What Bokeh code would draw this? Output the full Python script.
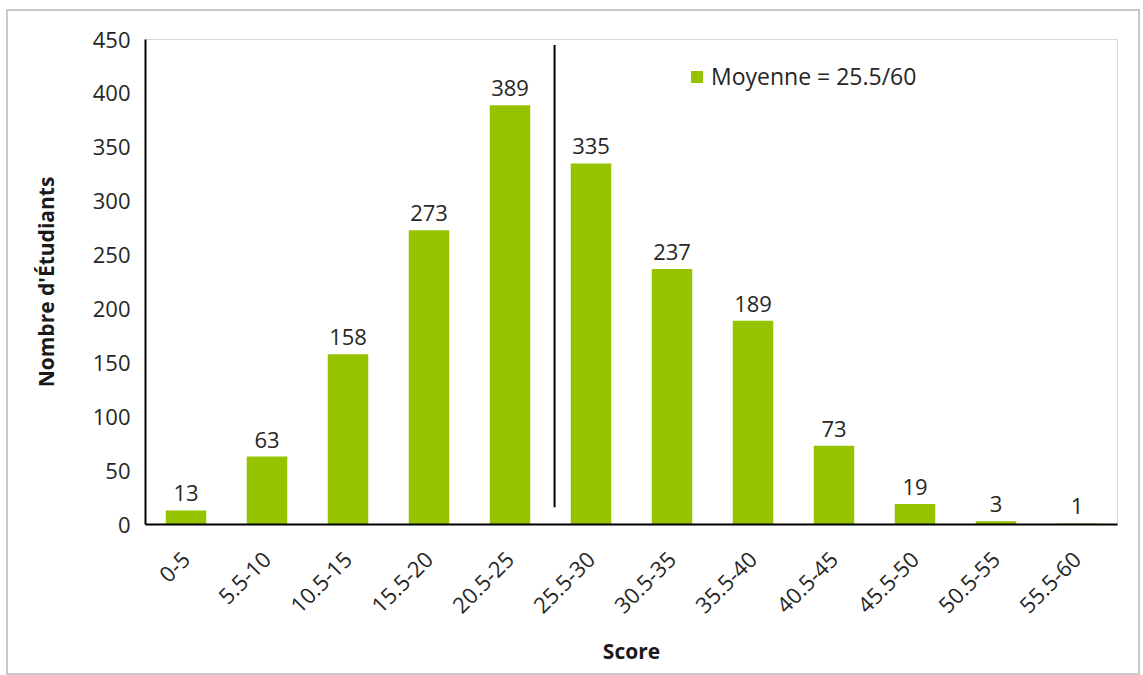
from bokeh.plotting import figure
from bokeh.models import Range1d, FixedTicker, Legend, LegendItem
from bokeh.embed import file_html
from bokeh.resources import INLINE
from bokeh.core.properties import value

categories = ["0-5", "5.5-10", "10.5-15", "15.5-20", "20.5-25", "25.5-30",
              "30.5-35", "35.5-40", "40.5-45", "45.5-50", "50.5-55", "55.5-60"]
counts = [13, 63, 158, 273, 389, 335, 237, 189, 73, 19, 3, 1]
y_ticks = [0, 50, 100, 150, 200, 250, 300, 350, 400, 450]
mean_label = "Moyenne = 25.5/60"
mean_position = 5.05  # boundary between 20.5-25 and 25.5-30 bins
mean_line_y = [16, 445]

FONT = "Open Sans"
GREEN = "#95C300"
TXT = "#262626"

xs = [i + 0.5 for i in range(len(categories))]

p = figure(width=1134, height=666, output_backend="svg", toolbar_location=None,
           x_range=Range1d(0, len(categories)), y_range=Range1d(0, 450),
           min_border_left=137, min_border_top=28, min_border_right=25, min_border_bottom=153)
p.styles = {"border": "2px solid #c8c8c8", "box-sizing": "border-box",
            "margin-left": "6px", "margin-top": "9px"}

bars = p.vbar(x=xs, top=counts, width=0.5, fill_color=GREEN, line_color=None)
p.text(x=xs, y=counts, text=[str(c) for c in counts], text_align="center",
       text_baseline="bottom", y_offset=-9, text_font=value(FONT),
       text_font_size="22px", text_color=TXT)
p.segment(x0=[mean_position], y0=[mean_line_y[0]], x1=[mean_position], y1=[mean_line_y[1]],
          line_color="black", line_width=2)

legend = Legend(items=[LegendItem(label=mean_label, renderers=[bars])],
                location=(544, 432), label_text_font=FONT, label_text_font_size="23px",
                label_text_color=TXT, glyph_width=15, glyph_height=15,
                border_line_color=None, background_fill_alpha=0, padding=4, spacing=0,
                label_standoff=7)
p.add_layout(legend)

p.xgrid.visible = False
p.ygrid.visible = False
p.outline_line_color = "#d9d9d9"
p.outline_line_width = 1

p.xaxis.ticker = FixedTicker(ticks=xs)
p.xaxis.major_label_overrides = {x: c for x, c in zip(xs, categories)}
p.xaxis.major_label_orientation = 0.785398
p.yaxis.ticker = FixedTicker(ticks=y_ticks)

for ax in (p.xaxis[0], p.yaxis[0]):
    ax.axis_line_color = "black"
    ax.axis_line_width = 2
    ax.major_tick_line_color = None
    ax.minor_tick_line_color = None
    ax.major_label_text_font = FONT
    ax.major_label_text_font_size = "22px"
    ax.major_label_text_color = TXT
    ax.axis_label_text_font = FONT
    ax.axis_label_text_font_style = "bold"
    ax.axis_label_text_font_size = "21px"
    ax.axis_label_text_color = "#1a1a1a"

p.xaxis.axis_label = "Score"
p.yaxis.axis_label = "Nombre d'Étudiants"
p.yaxis.major_label_standoff = 9
p.xaxis.major_label_standoff = 25
p.yaxis.axis_label_standoff = 30
p.xaxis.axis_label_standoff = 14

open("out.html", "w").write(file_html(p, INLINE))
